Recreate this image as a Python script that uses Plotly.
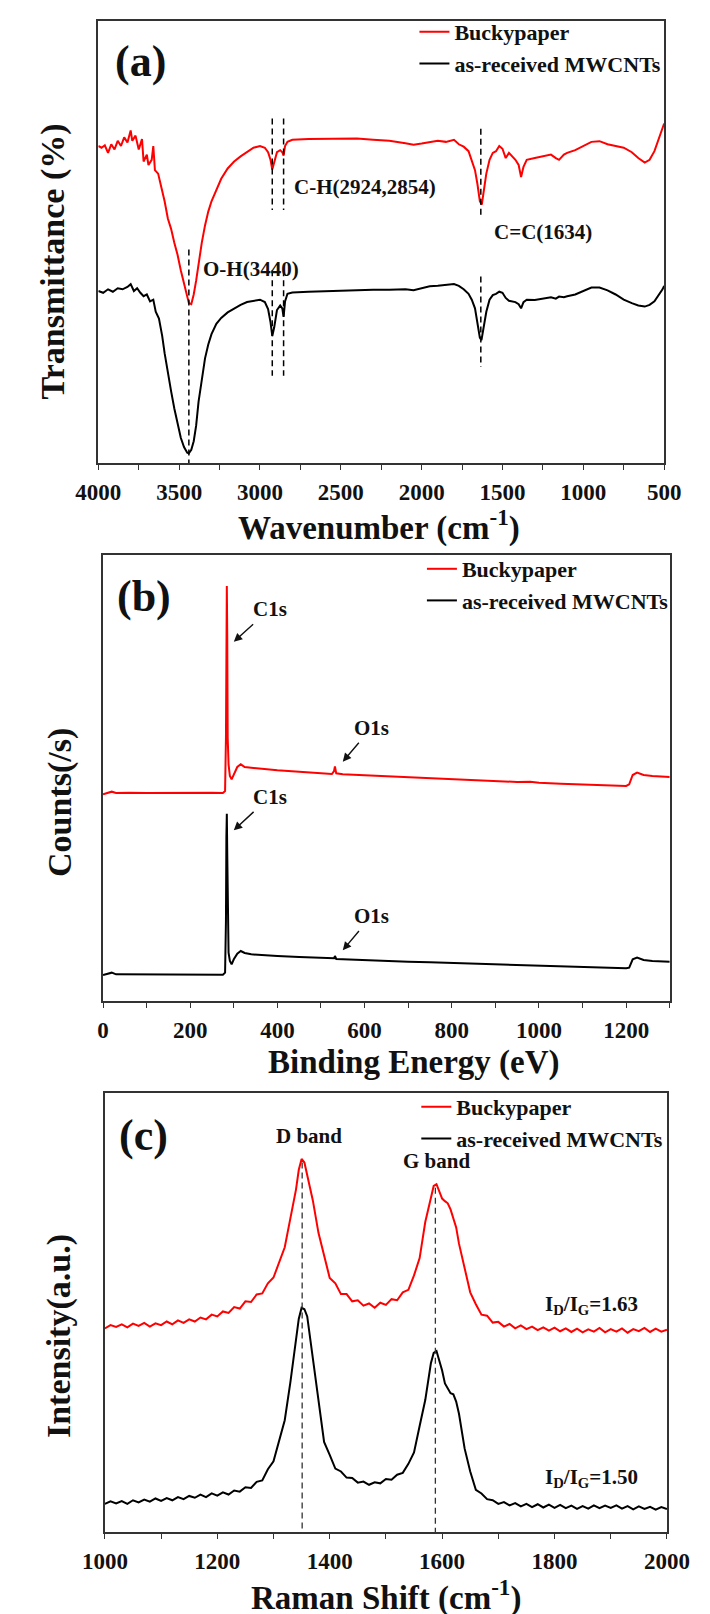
import plotly.graph_objects as go

FONT = "Liberation Serif"
RED = "#ff0000"
BLACK = "#000000"
AXC = "#333333"
TXT = "#111111"

# ---------------- Panel (a): FTIR ----------------
ftir_wn_bucky = [4000, 3980, 3960, 3940, 3920, 3900, 3880, 3860, 3840, 3820, 3800, 3790, 3770, 3750, 3730,
                 3720, 3700, 3690, 3670, 3660, 3650, 3630, 3610, 3590, 3570, 3550, 3530, 3510, 3490, 3470,
                 3450, 3440, 3425, 3410, 3395, 3380, 3360, 3340, 3320, 3300, 3270, 3240, 3200, 3160, 3120,
                 3080, 3040, 3000, 2970, 2950, 2935, 2924, 2912, 2895, 2875, 2862, 2854, 2845, 2830, 2800,
                 2700, 2600, 2500, 2400, 2300, 2200, 2100, 2050, 2000, 1950, 1900, 1850, 1800, 1770, 1740,
                 1710, 1690, 1670, 1655, 1640, 1628, 1615, 1600, 1580, 1560, 1540, 1520, 1500, 1480, 1460,
                 1440, 1420, 1400, 1385, 1370, 1350, 1300, 1250, 1200, 1170, 1150, 1120, 1100, 1050, 1000,
                 950, 900, 850, 800, 750, 700, 660, 620, 590, 560, 530, 510, 500]
ftir_t_bucky = [918, 913, 920, 898, 923, 908, 933, 918, 943, 928, 963, 933, 948, 908, 938,
                873, 893, 863, 878, 918, 848, 838, 798, 758, 708, 678, 638, 603, 558, 518,
                478, 463, 460, 488, 528, 578, 638, 688, 728, 758, 793, 823, 853, 873, 888,
                900, 913, 918, 913, 900, 878, 850, 873, 900, 906, 900, 890, 918, 930, 936,
                938, 938, 940, 940, 936, 933, 926, 922, 925, 930, 933, 930, 936, 923, 916,
                903, 878, 848, 808, 758, 748, 788, 838, 878, 898, 903, 918, 910, 883, 898,
                888, 878, 863, 828, 858, 878, 883, 888, 893, 883, 878, 893, 898, 906, 918,
                930, 932, 923, 918, 913, 900, 883, 870, 878, 903, 943, 968, 983]
ftir_wn_raw = [4000, 3970, 3940, 3910, 3880, 3850, 3820, 3800, 3780, 3760, 3740, 3720, 3700, 3680, 3660,
               3645, 3625, 3605, 3590, 3570, 3550, 3530, 3510, 3490, 3470, 3450, 3440, 3425, 3410, 3395,
               3380, 3360, 3340, 3320, 3300, 3270, 3240, 3200, 3160, 3120, 3080, 3040, 3000, 2970, 2950,
               2935, 2924, 2912, 2895, 2875, 2862, 2854, 2845, 2830, 2800, 2700, 2600, 2500, 2400, 2300,
               2200, 2100, 2050, 2000, 1950, 1900, 1850, 1800, 1770, 1740, 1710, 1690, 1670, 1655, 1640,
               1630, 1618, 1600, 1580, 1560, 1540, 1520, 1500, 1480, 1460, 1440, 1420, 1400, 1385, 1370,
               1350, 1300, 1250, 1200, 1170, 1150, 1120, 1100, 1050, 1000, 950, 900, 850, 800, 750,
               700, 660, 620, 590, 560, 530, 510, 500]
ftir_t_raw = [498, 493, 503, 496, 506, 503, 510, 518, 498, 506, 493, 483, 488, 468, 473,
              438, 418, 368, 318, 258, 208, 158, 113, 73, 46, 30, 28, 38, 63, 108,
              178, 248, 303, 343, 373, 403, 420, 436, 448, 458, 466, 470, 473, 466, 446,
              408, 368, 393, 443, 456, 448, 423, 468, 490, 494, 496, 498, 500, 501, 502,
              502, 503, 500, 506, 512, 513, 516, 518, 513, 503, 490, 473, 448, 408, 363,
              356, 388, 438, 473, 486, 490, 496, 493, 478, 470, 468, 466, 460, 448, 466,
              473, 472, 476, 480, 476, 482, 480, 483, 488, 498, 508, 508, 500, 488, 473,
              463, 456, 453, 458, 468, 488, 503, 513]

# ---------------- Panel (b): XPS ----------------
xps_be = [0, 10, 20, 30, 60, 100, 150, 200, 250, 275, 280, 282, 283, 284, 285, 286, 288, 291, 295,
          300, 308, 316, 325, 340, 360, 400, 450, 500, 525, 530, 532, 535, 550, 600, 650, 700,
          750, 800, 850, 900, 950, 980, 1000, 1050, 1100, 1150, 1200, 1207, 1215, 1225, 1240,
          1260, 1280, 1300]
xps_c_bucky = [620, 625, 628, 624, 625, 624, 625, 624, 625, 624, 630, 790, 1070, 1245, 1090, 790, 710,
               675, 665, 680, 702, 710, 702, 700, 697, 692, 688, 683, 681, 690, 704, 683, 680, 677,
               674, 672, 668, 665, 662, 660, 657, 658, 655, 652, 650, 648, 645, 650, 678, 685, 678,
               675, 673, 672]
xps_c_raw = [78, 82, 85, 80, 80, 80, 79, 79, 79, 79, 85, 240, 490, 562, 440, 240, 145, 120, 110,
             125, 142, 150, 144, 140, 138, 135, 132, 129, 127, 128, 135, 126, 125, 122, 120, 118,
             116, 114, 112, 110, 108, 109, 107, 105, 102, 100, 98, 100, 125, 130, 123, 120, 119, 118]

# ---------------- Panel (c): Raman ----------------
raman_shift = [1000, 1010, 1020, 1030, 1040, 1050, 1060, 1070, 1080, 1090,
               1100, 1110, 1120, 1130, 1140, 1150, 1160, 1170, 1180, 1190,
               1200, 1210, 1220, 1230, 1240, 1250, 1260, 1270, 1280, 1290,
               1300, 1310, 1320, 1330, 1340, 1345, 1350, 1355, 1360,
               1370, 1380, 1390, 1400, 1410, 1420, 1430, 1440, 1450, 1460, 1470,
               1480, 1490, 1500, 1510, 1520, 1530, 1540, 1550, 1560, 1570, 1580,
               1585, 1590, 1595, 1600, 1605, 1610, 1615, 1620, 1625, 1630,
               1640, 1650, 1660, 1670, 1680, 1690, 1700, 1710, 1720, 1730,
               1740, 1750, 1760, 1770, 1780, 1790, 1800, 1810, 1820, 1830,
               1840, 1850, 1860, 1870, 1880, 1890, 1900, 1910, 1920, 1930,
               1940, 1950, 1960, 1970, 1980, 1990, 2000]
raman_i_bucky = [565, 574, 569, 576, 568, 578, 572, 580, 570, 579,
                 574, 584, 576, 587, 580, 590, 584, 595, 590, 603,
                 598, 612, 608, 624, 620, 640, 638, 659, 662, 690,
                 706, 750, 790, 870, 950, 1005, 1035, 1025, 990,
                 920, 830, 765, 705, 690, 660, 660, 640, 643, 628, 634,
                 622, 636, 630, 646, 643, 665, 672, 712, 760, 860, 930,
                 960, 965, 945, 925, 918, 912, 895, 872, 845, 800,
                 735, 665, 632, 603, 600, 581, 583, 570, 577, 565,
                 573, 563, 570, 560, 568, 559, 567, 557, 565, 555,
                 564, 554, 562, 556, 566, 554, 563, 556, 565, 553,
                 563, 557, 566, 555, 564, 556, 561]
raman_i_raw = [78, 85, 79, 86, 78, 88, 82, 90, 84, 93,
               86, 94, 88, 97, 91, 100, 95, 104, 97, 107,
               101, 110, 104, 115, 112, 124, 122, 139, 143, 174,
               196, 250, 310, 415, 525, 592, 622, 618, 598,
               480, 360, 250, 214, 176, 168, 151, 150, 137, 140, 131,
               138, 135, 147, 145, 159, 164, 189, 221, 294, 366, 468,
               497, 502, 476, 448, 412, 400, 385, 382, 362, 328,
               232, 168, 117, 107, 91, 88, 78, 83, 74, 80,
               71, 78, 69, 77, 68, 76, 67, 75, 66, 73,
               64, 72, 65, 74, 66, 73, 67, 74, 65, 72,
               63, 71, 64, 70, 62, 69, 64]

series_names = ["Buckypaper", "as-received MWCNTs"]

fig = go.Figure()

def add_pair(xr, yr, xb, yb, xaxis, yaxis, legend):
    fig.add_trace(go.Scatter(x=xr, y=yr, mode="lines", name=series_names[0],
                             line=dict(color=RED, width=2), xaxis=xaxis, yaxis=yaxis, legend=legend))
    fig.add_trace(go.Scatter(x=xb, y=yb, mode="lines", name=series_names[1],
                             line=dict(color=BLACK, width=2), xaxis=xaxis, yaxis=yaxis, legend=legend))

add_pair(ftir_wn_bucky, ftir_t_bucky, ftir_wn_raw, ftir_t_raw, "x", "y", "legend")
add_pair(xps_be, xps_c_bucky, xps_be, xps_c_raw, "x2", "y2", "legend2")
add_pair(raman_shift, raman_i_bucky, raman_shift, raman_i_raw, "x3", "y3", "legend3")

tickfont = dict(family=FONT, size=23, color=TXT, weight="bold")

def xax(domain, rng, dtick, minor, anchor):
    return dict(domain=domain, range=rng, anchor=anchor, showgrid=False, zeroline=False,
                showline=True, linecolor=AXC, linewidth=1.5, mirror=True,
                ticks="outside", ticklen=5, tickwidth=1.2, tickcolor=AXC, dtick=dtick,
                tickfont=tickfont, ticklabelstandoff=3,
                minor=dict(dtick=minor, ticks="outside", ticklen=5, tickwidth=1.2, tickcolor=AXC))

def yax(domain, rng, anchor):
    return dict(domain=domain, range=rng, anchor=anchor, showgrid=False, zeroline=False,
                showline=True, linecolor=AXC, linewidth=1.5, mirror=True,
                ticks="", showticklabels=False)

H = 1614.0
W = 710.0
fig.update_layout(
    width=710, height=1614, margin=dict(l=0, r=0, t=0, b=0),
    paper_bgcolor="white", plot_bgcolor="white",
    font=dict(family=FONT, color=TXT, size=21),
    xaxis=xax([72 / W, 677 / W], [4000, 500], 500, 250, "y"),
    yaxis=yax([1 - 455 / H, 1 - 13 / H], [0, 1280], "x"),
    xaxis2=xax([77 / W, 683 / W], [0, 1300], 200, 100, "y2"),
    yaxis2=yax([1 - 993 / H, 1 - 547 / H], [0, 1338], "x2"),
    xaxis3=xax([79 / W, 680 / W], [1000, 2000], 200, 100, "y3"),
    yaxis3=yax([1 - 1524 / H, 1 - 1085 / H], [0, 1218], "x3"),
    showlegend=True,
)

legfont = dict(family=FONT, size=22, color=TXT, weight="bold")
for key, lx, ly in [("legend", 410, 3), ("legend2", 418, 540), ("legend3", 412, 1078)]:
    fig.update_layout({key: dict(x=lx / W, y=1 - ly / H, xanchor="left", yanchor="top",
                                 bgcolor="rgba(0,0,0,0)", borderwidth=0, font=legfont,
                                 tracegroupgap=0, itemwidth=30)})

annotations = []
def txt(text, x, y, xref, yref, size=21, angle=0):
    annotations.append(dict(text=text, x=x, y=y, xref=xref, yref=yref, showarrow=False,
                            xanchor="center", yanchor="middle", textangle=angle,
                            font=dict(family=FONT, size=size, color=TXT, weight="bold")))

# axis titles
txt("Wavenumber (cm<sup>-1</sup>)", 372 / W, 1 - 517 / H, "paper", "paper", size=33)
txt("Binding Energy (eV)", 409 / W, 1 - 1054 / H, "paper", "paper", size=33)
txt("Raman Shift (cm<sup>-1</sup>)", 380 / W, 1 - 1587 / H, "paper", "paper", size=33)
txt("Transmittance (%)", 24 / W, 1 - 253 / H, "paper", "paper", size=34, angle=-90)
txt("Counts(/s)", 31 / W, 1 - 794 / H, "paper", "paper", size=34, angle=-90)
txt("Intensity(a.u.)", 30 / W, 1 - 1328 / H, "paper", "paper", size=34, angle=-90)

# panel labels
txt("(a)", 3737, 1163, "x", "y", size=44)
txt("(b)", 95, 1215, "x2", "y2", size=44)
txt("(c)", 1069, 1100, "x3", "y3", size=44)

# panel (a) band labels
txt("C-H(2924,2854)", 2350, 798, "x", "y")
txt("C=C(1634)", 1252, 670, "x", "y")
txt("O-H(3440)", 3057, 563, "x", "y")

# panel (b) peak labels with arrows (text at tail, arrow head at peak)
for label, tx, ty, hx, hy in [("C1s", 382, 1175, 300, 1078), ("O1s", 616, 820, 550, 718),
                              ("C1s", 382, 612, 300, 512), ("O1s", 616, 255, 550, 152)]:
    annotations.append(dict(text=label, x=hx, y=hy, ax=tx, ay=ty, xref="x2", yref="y2",
                            axref="x2", ayref="y2", showarrow=True, arrowhead=2, arrowsize=1.2,
                            arrowwidth=1.4, arrowcolor=TXT, standoff=0, startstandoff=2,
                            font=dict(family=FONT, size=21, color=TXT, weight="bold")))

# panel (c) labels
txt("D band", 1364, 1100, "x3", "y3")
txt("G band", 1590, 1030, "x3", "y3")
txt("I<sub>D</sub>/I<sub>G</sub>=1.63", 1865, 630, "x3", "y3")
txt("I<sub>D</sub>/I<sub>G</sub>=1.50", 1865, 150, "x3", "y3")

fig.update_layout(annotations=annotations)

shapes = []
def dline(x, y0, y1, xref, yref, color=BLACK, width=1.5, dash="6px,4px"):
    shapes.append(dict(type="line", x0=x, x1=x, y0=y0, y1=y1, xref=xref, yref=yref,
                       line=dict(color=color, width=width, dash=dash)))

dline(3440, 618, 0, "x", "y")
for wn in (2924, 2854):
    dline(wn, 998, 733, "x", "y")
    dline(wn, 558, 253, "x", "y")
dline(1634, 968, 708, "x", "y")
dline(1634, 540, 278, "x", "y")
dline(1351, 1025, 0, "x3", "y3", color="#333333", width=1.3)
dline(1588, 955, 0, "x3", "y3", color="#333333", width=1.3)
fig.update_layout(shapes=shapes)

fig.write_html("out.html")
